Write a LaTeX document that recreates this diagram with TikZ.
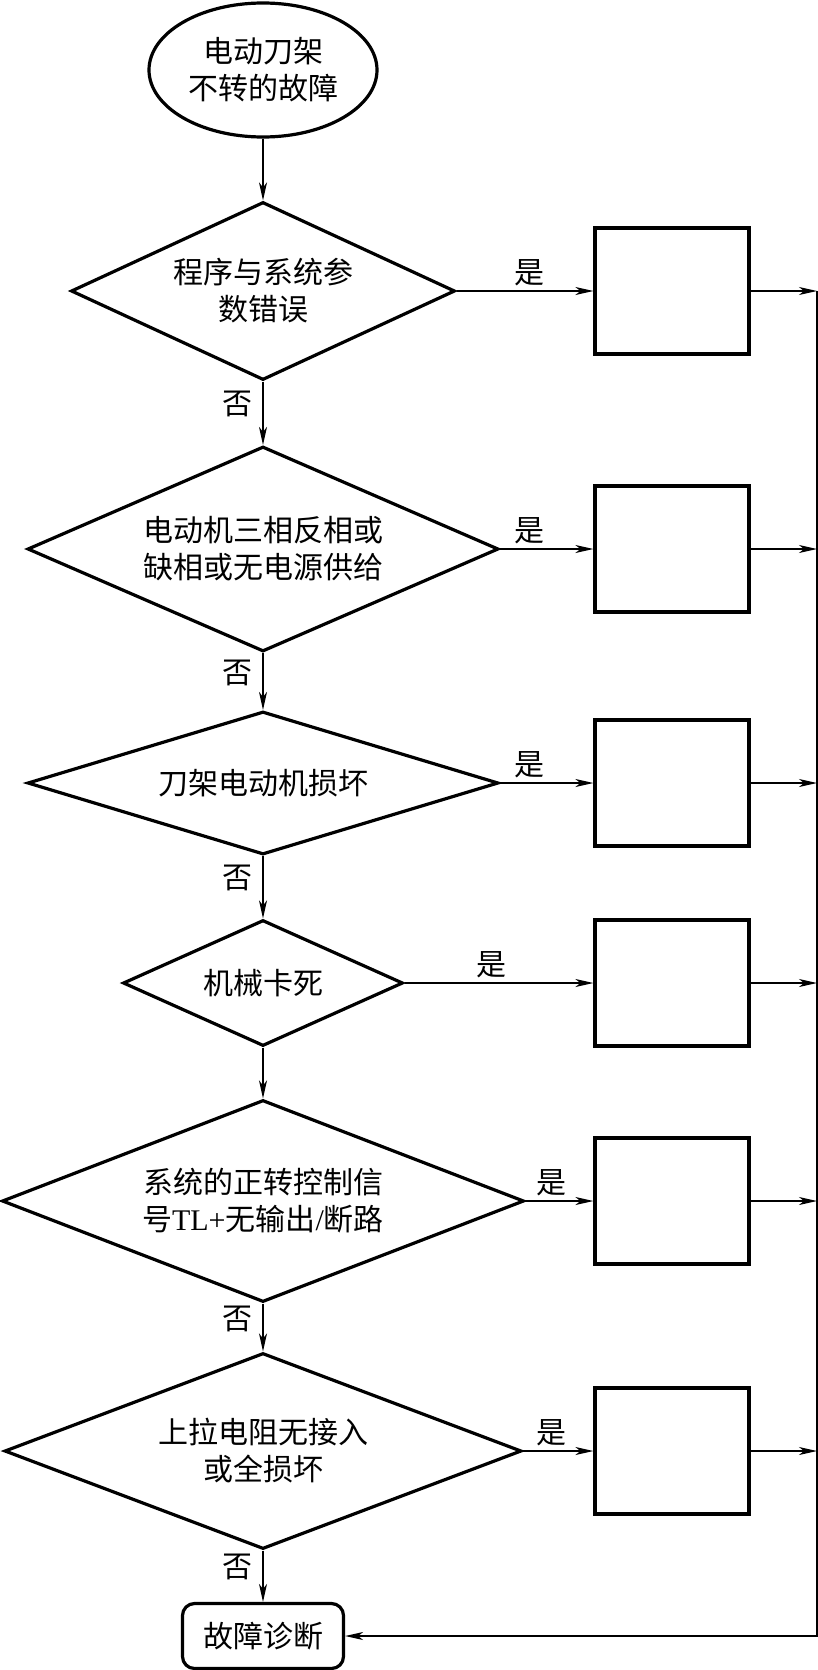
\documentclass[tikz,border=0pt]{standalone}
\usepackage{fontspec}
\setmainfont{Liberation Serif}
\newfontfamily\cjk{Noto Sans CJK SC}
\usetikzlibrary{arrows.meta,shapes.geometric}
\tikzset{
  fcStart/.style={ellipse,draw,line width=3.2pt,minimum width=228pt,minimum height=134pt,
    inner sep=0pt,align=center,font=\cjk\fontsize{30}{37}\selectfont},
  fcDecision/.style={diamond,draw,line width=3.2pt,inner sep=0pt,align=center,
    font=\cjk\fontsize{30}{37}\selectfont},
  fcAction/.style={rectangle,draw,line width=3.2pt,minimum width=154pt,minimum height=126pt},
  fcEnd/.style={rectangle,rounded corners=12pt,draw,line width=3.2pt,minimum width=161pt,
    minimum height=65pt,inner sep=0pt,font=\cjk\fontsize{30}{37}\selectfont},
  flowArrow/.style={-{Stealth[length=18pt,width=8pt,inset=5pt]},line width=1.4pt},
  flowLabel/.style={font=\cjk\fontsize{30}{37}\selectfont,inner sep=4pt}
}
\begin{document}
\begin{tikzpicture}[x=1pt,y=-1pt]
  \useasboundingbox (0,0) rectangle (818,1670);
  \coordinate (boxcol) at (672,0);
  \coordinate (bus) at (817,0);
  \node[fcStart] (start) at (263,70) {电动刀架\\不转的故障};
  \node[fcDecision,minimum width=384pt,minimum height=178pt,aspect=2.16] (d1) at (263,291) {程序与系统参\\数错误};
  \node[fcDecision,minimum width=471pt,minimum height=205pt,aspect=2.30] (d2) at (263,549) {电动机三相反相或\\缺相或无电源供给};
  \node[fcDecision,minimum width=471pt,minimum height=143pt,aspect=3.29] (d3) at (263,783) {刀架电动机损坏};
  \node[fcDecision,minimum width=280pt,minimum height=126pt,aspect=2.22] (d4) at (263,983) {机械卡死};
  \node[fcDecision,minimum width=522pt,minimum height=202pt,aspect=2.58] (d5) at (263,1201) {系统的正转控制信\\号{\rmfamily TL+}无输出{\rmfamily /}断路};
  \node[fcDecision,minimum width=517pt,minimum height=196pt,aspect=2.64] (d6) at (263,1451) {上拉电阻无接入\\或全损坏};
  \node[fcEnd] (diag) at (263,1636) {故障诊断};
  \foreach \i in {1,...,6}
    \node[fcAction] (b\i) at (d\i -| boxcol) {};
  % main column
  \draw[flowArrow] (start.south) -- (d1.north);
  \draw[flowArrow] (d1.south) -- node[flowLabel,left=6pt,pos=.35]{否} (d2.north);
  \draw[flowArrow] (d2.south) -- node[flowLabel,left=6pt,pos=.35]{否} (d3.north);
  \draw[flowArrow] (d3.south) -- node[flowLabel,left=6pt,pos=.35]{否} (d4.north);
  \draw[flowArrow] (d4.south) -- (d5.north);
  \draw[flowArrow] (d5.south) -- node[flowLabel,left=6pt,pos=.33]{否} (d6.north);
  \draw[flowArrow] (d6.south) -- node[flowLabel,left=6pt,pos=.31]{否} (diag.north);
  % yes branches and return bus
  \foreach \i/\p in {1/.53,2/.32,3/.32,4/.46,5/.38,6/.40}
    \draw[flowArrow] (d\i.east) -- node[flowLabel,above,pos=\p]{是} (b\i.west);
  \foreach \i in {1,...,6}
    \draw[flowArrow] (b\i.east) -- (b\i.east -| bus);
  \draw[flowArrow] (b1.east -| bus) |- (diag.east);
\end{tikzpicture}
\end{document}
